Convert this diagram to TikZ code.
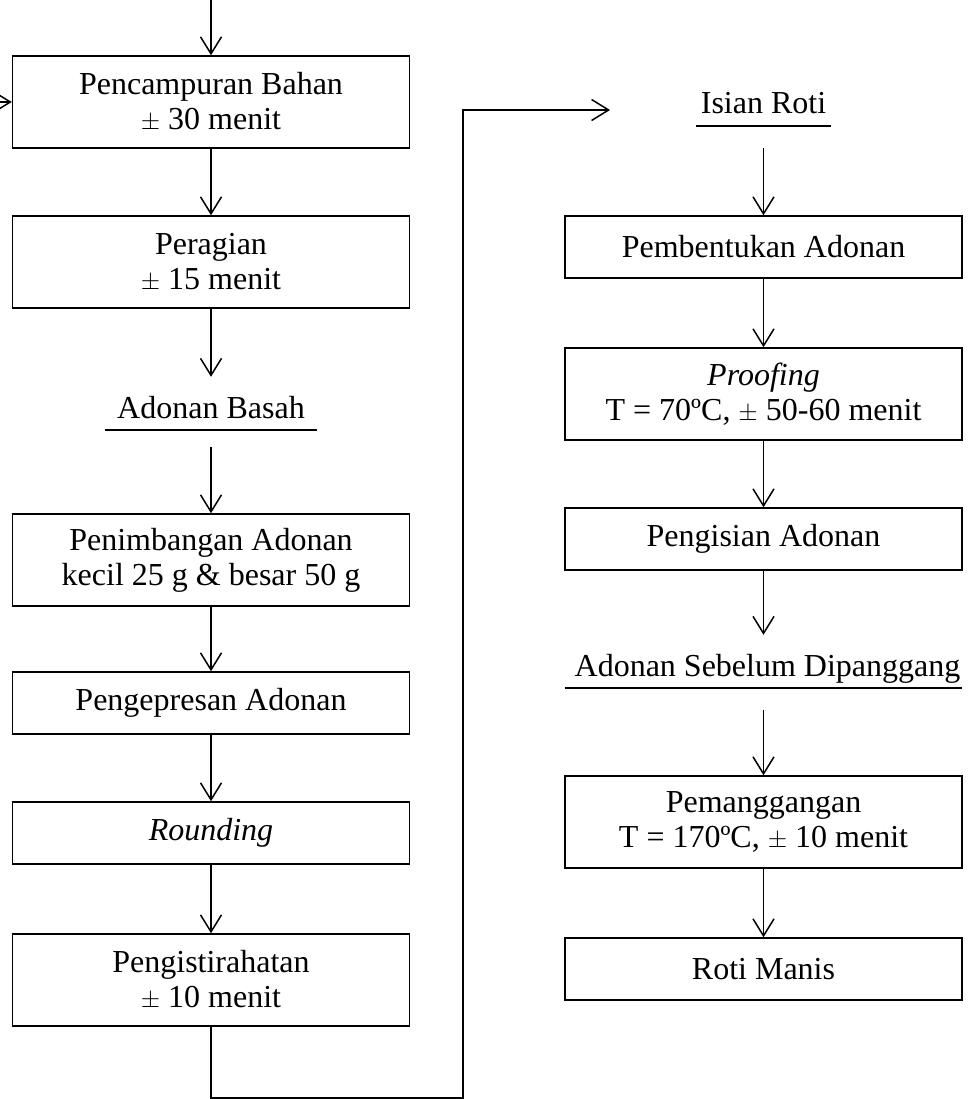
\documentclass[tikz,border=0pt]{standalone}
\usepackage{fontspec}
\setmainfont{Liberation Serif}
\usetikzlibrary{arrows.meta}

\tikzset{
  box/.style={draw, line width=1.5pt, minimum width=397pt, inner sep=0pt,
    align=center, font=\fontsize{32}{35}\selectfont},
  stage/.style={inner sep=0pt, anchor=base, text height=41pt, text depth=12pt,
    font=\fontsize{32}{35}\selectfont},
  flow/.style={line width=1.5pt, -{Straight Barb[length=17pt,width=21pt]}},
  uline/.style={line width=1.5pt}
}

\begin{document}
\begin{tikzpicture}[x=1pt,y=-1pt]
    \useasboundingbox (0,0) rectangle (971,1099);

    \node[box, minimum height=92pt] (mix) at (211,102) {Pencampuran Bahan\\$\pm$ 30 menit};
    \node[box, minimum height=92pt] (ferment) at (211,262) {Peragian\\$\pm$ 15 menit};
    \node[stage, minimum width=212pt] (wet) at (211,418) {Adonan Basah};
    \node[box, minimum height=92pt] (weigh) at (211,560) {Penimbangan Adonan\\kecil 25 g \& besar 50 g};
    \node[box, minimum height=62pt] (press) at (211,703) {Pengepresan Adonan};
    \node[box, minimum height=62pt] (round) at (211,833) {\textit{Rounding}};
    \node[box, minimum height=92pt] (rest) at (211,980) {Pengistirahatan\\$\pm$ 10 menit};

    \node[stage, minimum width=134pt] (filling) at (763.5,114) {Isian Roti};
    \node[box, minimum height=62pt] (shape) at (763.5,247) {Pembentukan Adonan};
    \node[box, minimum height=92pt] (proof) at (763.5,394) {\textit{Proofing}\\T = 70ºC, $\pm$ 50-60 menit};
    \node[box, minimum height=62pt] (fill) at (763.5,539) {Pengisian Adonan};
    \node[stage, minimum width=397pt] (raw) at (763.5,676) {\ Adonan Sebelum Dipanggang};
    \node[box, minimum height=92pt] (bake) at (763.5,822) {Pemanggangan\\T = 170ºC, $\pm$ 10 menit};
    \node[box, minimum height=62pt] (bread) at (763.5,969) {Roti Manis};

    \draw[uline] (wet.south west) -- (wet.south east);
    \draw[uline] (filling.south west) -- (filling.south east);
    \draw[uline] (raw.south west) -- (raw.south east);

    \coordinate (top) at (211,0);
    \coordinate (side) at (0,102);
    \coordinate (turn) at (463,1098);
    \coordinate (intip) at (610,110);

    \draw[flow] (top) -- (mix.north);
    \draw[flow] (side) -- (mix.west);
    \draw[flow] (mix) -- (ferment);
    \draw[flow] (ferment.south) -- (wet.north);
    \draw[flow, shorten <=17pt] (wet.south) -- (weigh.north);
    \draw[flow] (weigh) -- (press);
    \draw[flow] (press) -- (round);
    \draw[flow] (round) -- (rest);
    \draw[flow] (rest.south) |- (turn) |- (intip);

    \draw[flow, shorten <=22pt] (filling.south) -- (shape.north);
    \draw[flow] (shape) -- (proof);
    \draw[flow] (proof) -- (fill);
    \draw[flow] (fill.south) -- (raw.north);
    \draw[flow, shorten <=22pt] (raw.south) -- (bake.north);
    \draw[flow] (bake) -- (bread);
  \end{tikzpicture}
\end{document}
